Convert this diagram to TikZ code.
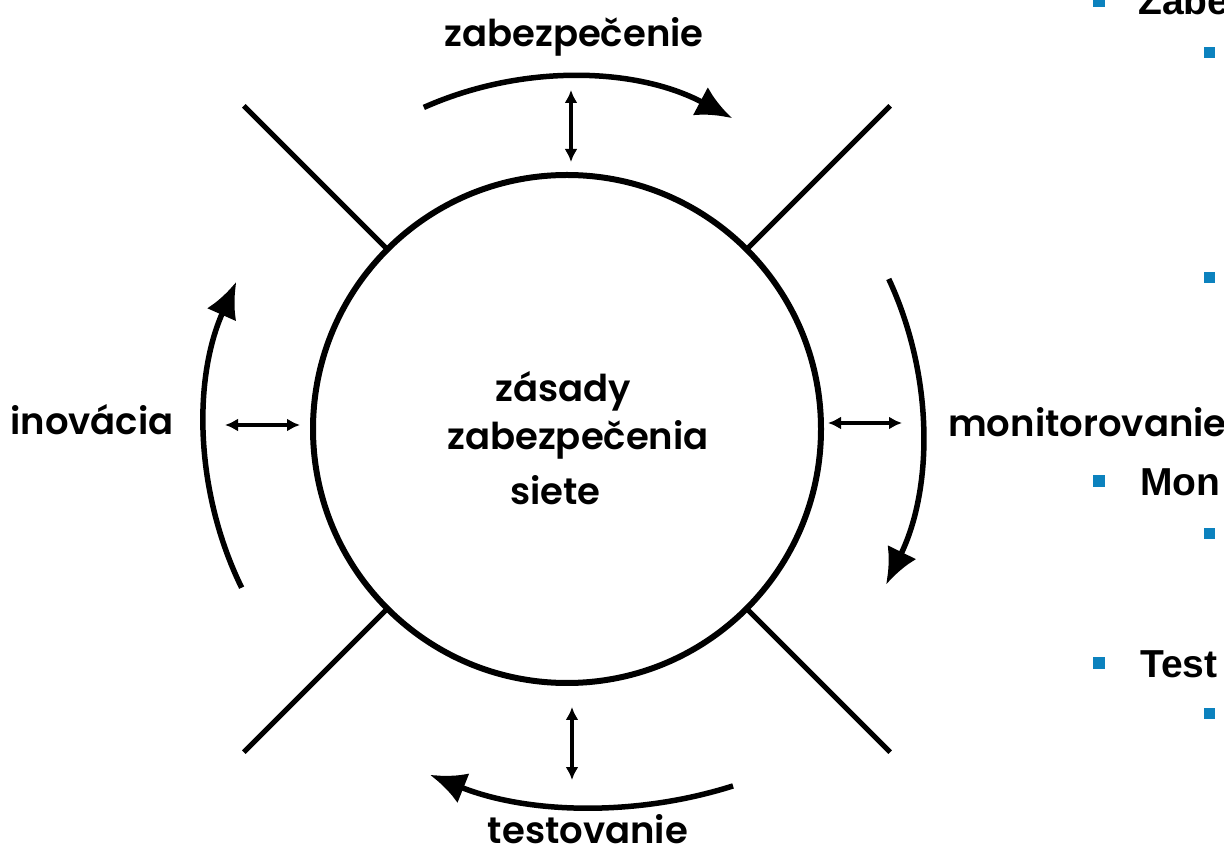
\documentclass[tikz,border=0pt]{standalone}
\usepackage{fontspec}
\usetikzlibrary{arrows.meta,calc}
\newfontfamily\geofont{Poppins SemiBold}
\newfontfamily\slidefont{Liberation Sans}
\definecolor{bulletblue}{RGB}{12,130,190}

\begin{document}
\begin{tikzpicture}[x=1pt,y=1pt,
  ring/.style={draw, circle, line width=6pt, minimum size=508pt, inner sep=0pt, outer sep=0pt},
  spoke/.style={line width=5pt},
  flow/.style={line width=5.5pt, -{Latex[length=36pt,width=32pt]}},
  twoway/.style={line width=3.5pt, {Latex[length=13pt,width=13pt]}-{Latex[length=13pt,width=13pt]}},
  ringtext/.style={font=\geofont\fontsize{37}{40}\selectfont, inner sep=0pt, anchor=base},
  headtext/.style={font=\slidefont\bfseries\fontsize{39}{40}\selectfont, inner sep=0pt, anchor=base west},
  bulletbig/.style={fill=bulletblue, minimum size=12pt, inner sep=0pt},
  bulletsmall/.style={fill=bulletblue, minimum size=11pt, inner sep=0pt},
]
\useasboundingbox (0,0) rectangle (1224,852);
\clip (0,0) rectangle (1224,852);

% central policy circle
\node[ring] (c) at (567,423) {};
\node[ringtext, anchor=base west] (p1) at (495,450) {zásady};
\node[ringtext, anchor=base west] (p2) at (447,402) {zabezpečenia};
\node[ringtext, anchor=base west] (p3) at (510,347) {siete};

% four spokes separating the phases
\foreach \a in {45,135,225,315}
  \draw[spoke] (c.\a) -- ($(c.center)+(\a:457)$);

% cycle arrows
\draw[flow] ($(c.center)+(114:352)$) arc[start angle=114, end angle=62, radius=352];
\draw[flow] ($(c.center)+(25:355)$) arc[start angle=25, end angle=-26, radius=355];
\coordinate (bc) at (597,495);
\draw[flow] ($(bc)+(-72.4:450)$) arc[start angle=-72.4, end angle=-111.8, radius=450];
\draw[flow] ($(c.center)+(206:362)$) arc[start angle=206, end angle=156, radius=362];

% phase labels
\node[ringtext] (zab) at (574,805) {zabezpečenie};
\node[ringtext] (ino) at (92,417) {inovácia};
\node[ringtext, anchor=base west] (mon) at (948,415) {monitorovanie};
\node[ringtext] (tst) at (588,9) {testovanie};

% two-way links between circle and phases
\coordinate (ta) at (571,762); \coordinate (tb) at (571,690);
\coordinate (la) at (225,427); \coordinate (lb) at (300,427);
\coordinate (ra) at (828,429); \coordinate (rb) at (902,429);
\coordinate (ba) at (572,145); \coordinate (bb) at (572,72);
\draw[twoway] (ta) -- (tb);
\draw[twoway] (la) -- (lb);
\draw[twoway] (ra) -- (rb);
\draw[twoway] (ba) -- (bb);

% bullet list at the right
\node[bulletbig] (s1) at (1098.5,851) {};
\node[headtext] (h1) at (1138,837) {Zabe};
\node[bulletsmall] (s1a) at (1209,799) {};
\node[bulletsmall] (s1b) at (1209,574.5) {};
\node[bulletbig] (s2) at (1098.5,371) {};
\node[headtext] (h2) at (1140,356) {Mon};
\node[bulletsmall] (s2a) at (1209,318) {};
\node[bulletbig] (s3) at (1098.5,189) {};
\node[headtext] (h3) at (1140,174) {Test};
\node[bulletsmall] (s3a) at (1209,138) {};
\end{tikzpicture}
\end{document}
